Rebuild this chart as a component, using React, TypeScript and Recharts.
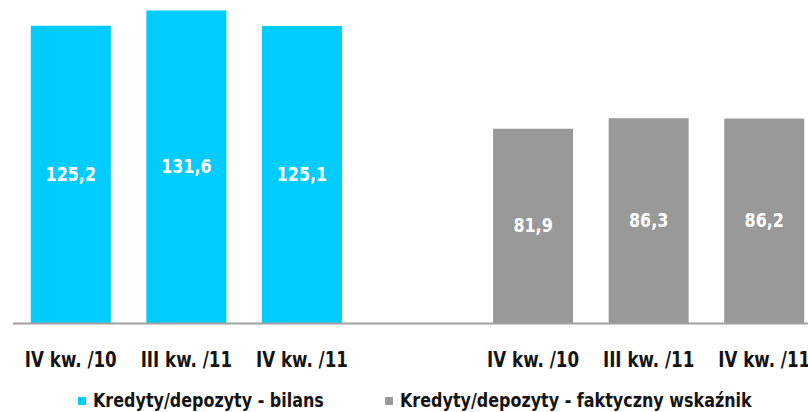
import React from 'react';
import { BarChart, Bar, XAxis, YAxis, Legend, LabelList } from 'recharts';

const categories = ['IV kw. /10', 'III kw. /11', 'IV kw. /11', '', 'IV kw. /10', 'III kw. /11', 'IV kw. /11'];
const bilansValues: (number | null)[] = [125.2, 131.6, 125.1, null, null, null, null];
const faktycznyValues: (number | null)[] = [null, null, null, null, 81.9, 86.3, 86.2];
const boundaryTicks = [0, 1, 2, 3, 4, 5, 6, 7];
const seriesNames = ['Kredyty/depozyty - bilans', 'Kredyty/depozyty - faktyczny wskaźnik'];
const seriesColors = ['#00CCFF', '#999999'];

const data = categories.map((cat, i) => ({
  cat,
  bilans: bilansValues[i],
  faktyczny: faktycznyValues[i],
}));

const FONT = '"DejaVu Sans", sans-serif';

const CatTick = (props: any) => {
  const { x, y, payload } = props;
  return (
    <g transform={`translate(${x},${y + 42})`}>
      <text x={0} y={0} transform="scale(0.76,1)" textAnchor="middle" fontFamily={FONT} fontWeight="bold" fontSize={22} fill="#141414">
        {payload.value}
      </text>
    </g>
  );
};

const ValueLabel = (props: any) => {
  const { x, y, width, height, value } = props;
  if (value == null || !height) return null;
  const cx = Number(x) + Number(width) / 2;
  const cy = Number(y) + Number(height) / 2;
  return (
    <text x={0} y={0} transform={`translate(${cx},${cy + 6}) scale(0.84,1)`} textAnchor="middle" fill="#ffffff" fontFamily={FONT} fontWeight={600} fontSize={19}>
      {String(value).replace('.', ',')}
    </text>
  );
};

const legendLefts = [65, 372];

const LegendContent = () => (
  <div style={{ position: 'relative', height: 30, width: '100%' }}>
    {seriesNames.map((name, i) => (
      <div key={name} style={{ position: 'absolute', left: legendLefts[i], top: 0, height: 30 }}>
        <span style={{ position: 'absolute', left: 0, top: 15, width: 8, height: 8, background: seriesColors[i] }} />
        <span
          style={{
            position: 'absolute',
            left: 15,
            top: 6,
            whiteSpace: 'nowrap',
            fontFamily: FONT,
            fontWeight: 'bold',
            fontSize: 19,
            lineHeight: '24px',
            color: '#141414',
            transform: 'scaleX(0.84)',
            transformOrigin: 'left center',
          }}
        >
          {name}
        </span>
      </div>
    ))}
  </div>
);

export default function App() {
  return (
    <div style={{ position: 'absolute', left: 0, top: 0, width: 808, height: 412, overflow: 'hidden', background: '#fff' }}>
      <BarChart width={830} height={412} data={data} margin={{ top: 0, right: 8, left: 13, bottom: 0 }} barCategoryGap="15.4%">
        <YAxis hide domain={[0, 136]} />
        <XAxis
          xAxisId="a"
          type="number"
          domain={[0, 7]}
          ticks={boundaryTicks}
          allowDataOverflow
          tick={false}
          tickSize={7}
          height={1}
          axisLine={{ stroke: '#A0A0A0', strokeWidth: 2 }}
          tickLine={{ stroke: '#A0A0A0', strokeWidth: 2 }}
        />
        <XAxis xAxisId="b" dataKey="cat" height={57.5} axisLine={false} tickLine={false} tickSize={0} tickMargin={0} interval={0} tick={CatTick} />
        <Bar xAxisId="b" dataKey="bilans" name={seriesNames[0]} stackId="s" fill={seriesColors[0]} isAnimationActive={false}>
          <LabelList dataKey="bilans" content={ValueLabel} />
        </Bar>
        <Bar xAxisId="b" dataKey="faktyczny" name={seriesNames[1]} stackId="s" fill={seriesColors[1]} isAnimationActive={false}>
          <LabelList dataKey="faktyczny" content={ValueLabel} />
        </Bar>
        <Legend verticalAlign="bottom" content={LegendContent} />
      </BarChart>
    </div>
  );
}
